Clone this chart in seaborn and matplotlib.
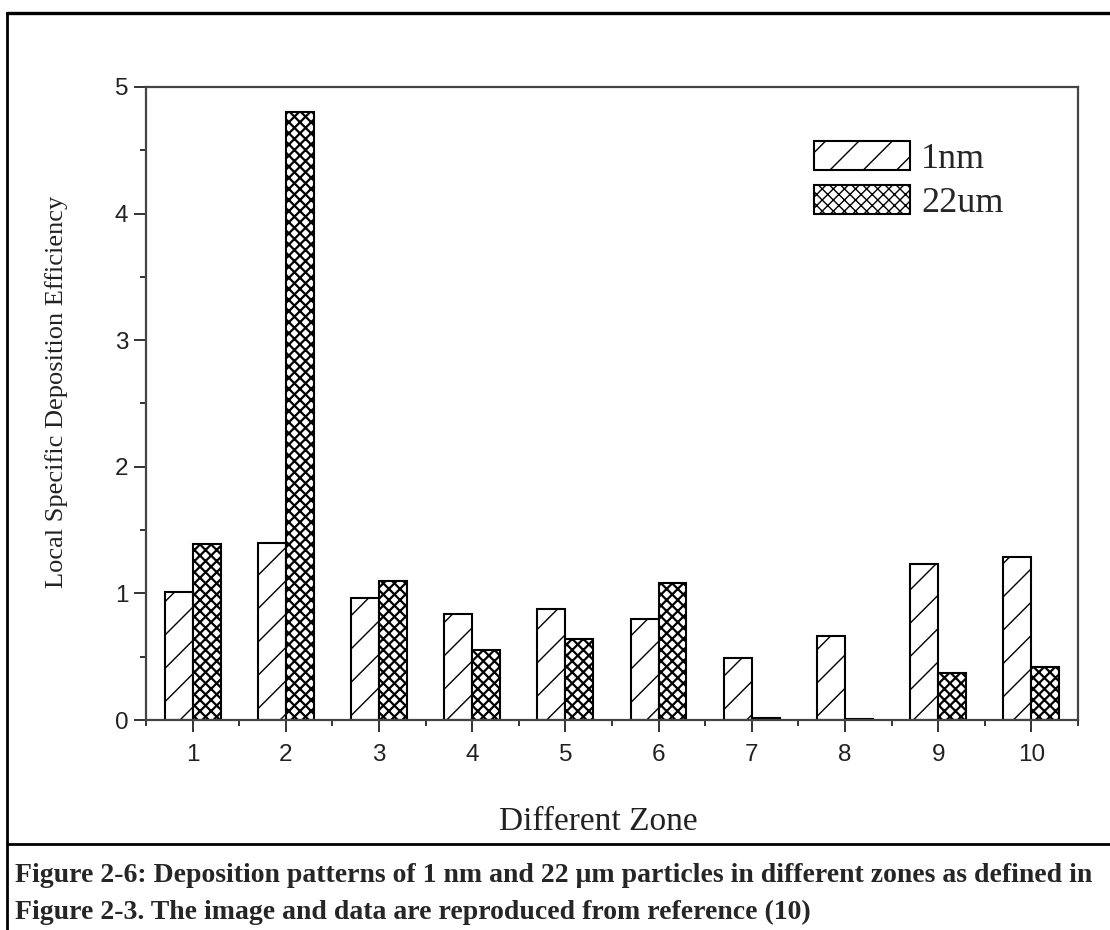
import matplotlib
matplotlib.use('Agg')
import matplotlib.pyplot as plt
from matplotlib.patches import Patch
from matplotlib.lines import Line2D
from matplotlib.ticker import MultipleLocator, FixedLocator
import pandas as pd
import seaborn as sns

# values
zones = ['1', '2', '3', '4', '5', '6', '7', '8', '9', '10']
eff_1nm = [1.01, 1.40, 0.96, 0.835, 0.88, 0.80, 0.49, 0.66, 1.23, 1.29]
eff_22um = [1.39, 4.80, 1.10, 0.55, 0.64, 1.08, 0.015, 0.005, 0.37, 0.42]
series = ['1nm', '22um']
hatches = ['/', 'xxx']
hatch_lw = [1.0, 1.6]

df = pd.DataFrame({
    'zone': zones * 2,
    'value': eff_1nm + eff_22um,
    'size': [series[0]] * len(zones) + [series[1]] * len(zones),
})

sns.set_style('ticks')
plt.rcParams['hatch.color'] = 'black'
plt.rcParams['hatch.linewidth'] = 1.0

fig = plt.figure(figsize=(11.1, 9.3), dpi=100)
ax = fig.add_axes([0.1315, 0.2258, 0.8396, 0.6807])

sns.barplot(data=df, x='zone', y='value', hue='size', order=zones, hue_order=series,
            palette=['white', 'white'], width=0.6, edgecolor='black', linewidth=1.5,
            saturation=1, legend=False, ax=ax)

for cont, h, hl in zip(ax.containers, hatches, hatch_lw):
    for bar in cont:
        bar.set_hatch(h)
        if hasattr(bar, 'set_hatch_linewidth'):
            bar.set_hatch_linewidth(hl)

ax.set_xlim(-0.5, 9.5)
ax.set_ylim(0, 5)
ax.xaxis.set_minor_locator(FixedLocator([i - 0.5 for i in range(len(zones) + 1)]))
ax.yaxis.set_major_locator(MultipleLocator(1))
ax.yaxis.set_minor_locator(MultipleLocator(0.5))

for s in ax.spines.values():
    s.set_color('#444444')
    s.set_linewidth(1.6)

ax.tick_params(axis='both', which='major', direction='out', length=8.6, width=1.4,
               color='#333333', labelcolor='#222222', labelsize=17.5)
ax.tick_params(axis='both', which='minor', direction='out', length=4.3, width=1.4,
               color='#333333')
ax.tick_params(axis='x', which='major', pad=9)
ax.tick_params(axis='y', which='major', pad=4)
for lab in ax.get_xticklabels() + ax.get_yticklabels():
    lab.set_family('Liberation Sans')

ax.set_xlabel('Different Zone', family='Liberation Serif', fontsize=24, color='#222222')
ax.set_ylabel('Local Specific Deposition Efficiency', family='Liberation Serif',
              fontsize=19, color='#222222')
ax.xaxis.set_label_coords(0.485, -0.136)
ax.yaxis.set_label_coords(-0.084, 0.518)

handles = []
for s, h, hl in zip(series, hatches, hatch_lw):
    p = Patch(facecolor='white', edgecolor='black', hatch=h, linewidth=1.5, label=s)
    if hasattr(p, 'set_hatch_linewidth'):
        p.set_hatch_linewidth(hl)
    handles.append(p)
fig.legend(handles=handles, loc='upper left', bbox_to_anchor=(0.733, 0.848),
           frameon=False, prop={'family': 'Liberation Serif', 'size': 26},
           handlelength=2.67, handleheight=0.85, handletextpad=0.3,
           labelspacing=0.25, borderpad=0, borderaxespad=0)

# page frame around the figure and caption
lc = 'black'
fig.add_artist(Line2D([0.0063, 0.0063], [0.986, 0.0], color=lc, lw=2.0))
fig.add_artist(Line2D([0.0063, 1.0], [0.986, 0.986], color=lc, lw=2.4))
fig.add_artist(Line2D([0.0063, 1.0], [0.0925, 0.0925], color=lc, lw=2.0))

fig.text(0.0135, 0.059, 'Figure 2-6: Deposition patterns of 1 nm and 22 \u03bcm particles in '
         'different zones as defined in', family='Liberation Serif', weight='bold',
         fontsize=20, va='center', ha='left')
fig.text(0.0135, 0.0194, 'Figure 2-3. The image and data are reproduced from reference (10)',
         family='Liberation Serif', weight='bold', fontsize=20, va='center', ha='left')

fig.savefig('out.png', dpi=100)
